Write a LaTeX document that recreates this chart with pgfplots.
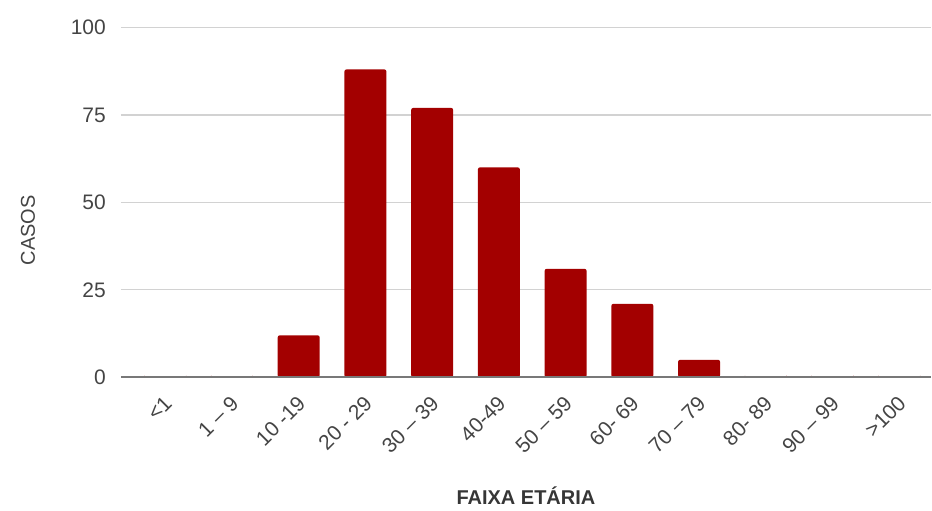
\documentclass[border=0pt]{standalone}
\usepackage{pgfplots}
\pgfplotsset{compat=1.18}
\usepackage{fontspec}
\setmainfont{Liberation Sans}
\usetikzlibrary{calc}

\definecolor{barred}{RGB}{163,0,0}
\definecolor{txtgray}{RGB}{68,68,68}
\definecolor{gridgray}{RGB}{210,210,210}
\definecolor{basegray}{RGB}{120,120,120}

\begin{document}
\begin{tikzpicture}
\begin{axis}[
    name=ax,
    scale only axis,
    width=405.5pt, height=175.1pt,
    xmin=-0.665, xmax=11.476,
    ymin=0, ymax=100,
    ytick={0,25,50,75,100},
    xtick={0,...,11},
    xticklabels={<1, 1 -- 9, 10 -19, 20 - 29, 30 -- 39, 40-49, 50 -- 59, 60- 69, 70 -- 79, 80- 89, 90 -- 99, >100},
    /pgf/number format/assume math mode=true,
    axis line style={draw=none},
    major tick length=0pt,
    ymajorgrids,
    grid style={gridgray, line width=0.6pt},
    tick label style={font=\fontsize{10.5}{12}\selectfont, text=txtgray},
    yticklabel style={xshift=-4pt},
    xticklabel style={rotate=45, anchor=east, xshift=-3.5pt, yshift=-9pt},
    ylabel={CASOS},
    ylabel style={font=\fontsize{10}{12}\selectfont, text=txtgray,
        at={(axis description cs:0,0.42)}, anchor=center, yshift=46.5pt},
    xlabel={\bfseries FAIXA ETÁRIA},
    xlabel style={font=\fontsize{10}{12}\selectfont, text=txtgray!80!black,
        at={(axis description cs:0.5,0)}, anchor=center, yshift=-59pt},
    ybar, bar width=21pt,
    clip=false,
]
\addplot[fill=barred, draw=none, rounded corners=1pt] coordinates {
    (0,0) (1,0) (2,12) (3,88) (4,77) (5,60) (6,31) (7,21) (8,5) (9,0) (10,0) (11,0)
};
\draw[basegray, line width=1pt] (rel axis cs:0,0) -- (rel axis cs:1,0);
\end{axis}
\path[use as bounding box] ($(ax.south west)+(-60.5pt,-65.65pt)$) rectangle ++(466pt,254.5pt);
\end{tikzpicture}
\end{document}
